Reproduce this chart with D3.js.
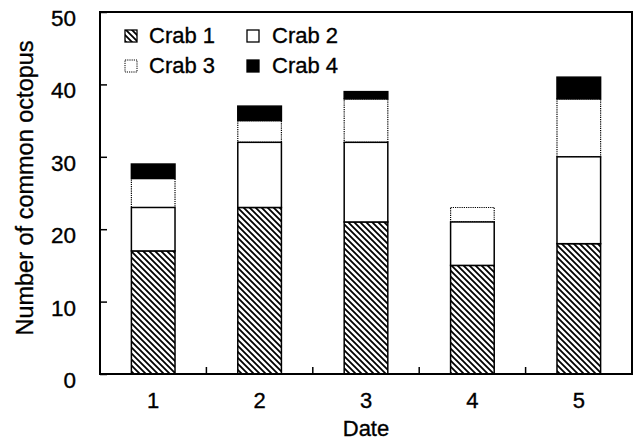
<!DOCTYPE html>
<html>
<head>
<meta charset="utf-8">
<script src="https://cdn.jsdelivr.net/npm/d3@7"></script>
<style>
  html, body { margin: 0; padding: 0; background: #fff; }
  text { font-family: "Liberation Sans", Arial, Helvetica, sans-serif; fill: #000; stroke: #000; stroke-width: 0.35px; }
</style>
</head>
<body>
<svg id="chart" width="643" height="443"></svg>
<script>
const dates = ["1", "2", "3", "4", "5"];
const crab1 = [17, 23, 21, 15, 18];
const crab2 = [6, 9, 11, 6, 12];
const crab3 = [4, 3, 6, 2, 8];
const crab4 = [2, 2, 1, 0, 3];
const seriesNames = ["Crab 1", "Crab 2", "Crab 3", "Crab 4"];
const yTicks = [0, 10, 20, 30, 40, 50];

const rows = dates.map((d, i) => ({ date: d, "Crab 1": crab1[i], "Crab 2": crab2[i], "Crab 3": crab3[i], "Crab 4": crab4[i] }));

const svg = d3.select("#chart");
const m = { left: 100, right: 632, top: 12, bottom: 374 };

const x = d3.scaleBand().domain(dates).range([m.left, m.right]).paddingInner(0.59).paddingOuter(0.295);
const xEdges = d3.scaleBand().domain(dates).range([m.left, m.right]);
const y = d3.scaleLinear().domain([0, 50]).range([m.bottom, m.top]);

const defs = svg.append("defs");
const pat = defs.append("pattern").attr("id", "hatch").attr("patternUnits", "userSpaceOnUse")
  .attr("width", 6).attr("height", 6);
pat.append("rect").attr("width", 6).attr("height", 6).attr("fill", "#fff");
pat.append("path").attr("d", "M0,0 L6,6 M-3,3 L3,9 M3,-3 L9,3")
  .attr("stroke", "#000").attr("stroke-width", 1.8);

const styles = {
  "Crab 1": { fill: "url(#hatch)", dash: null, sw: 1.5 },
  "Crab 2": { fill: "#fff", dash: null, sw: 1.5 },
  "Crab 3": { fill: "#fff", dash: "1.2,1", sw: 1.2 },
  "Crab 4": { fill: "#000", dash: null, sw: 1.5 }
};

const stacked = d3.stack().keys(seriesNames)(rows);
const drawOrder = ["Crab 3", "Crab 1", "Crab 2", "Crab 4"];
drawOrder.forEach(key => {
  const layer = stacked.find(s => s.key === key);
  const st = styles[key];
  svg.append("g").selectAll("rect")
    .data(layer.filter(d => d[1] - d[0] > 0))
    .join("rect")
    .attr("x", d => x(d.data.date))
    .attr("width", x.bandwidth())
    .attr("y", d => y(d[1]))
    .attr("height", d => y(d[0]) - y(d[1]))
    .attr("fill", st.fill)
    .attr("stroke", "#000")
    .attr("stroke-width", st.sw)
    .attr("stroke-dasharray", st.dash);
});

// frame
svg.append("rect").attr("x", m.left).attr("y", m.top)
  .attr("width", m.right - m.left).attr("height", m.bottom - m.top)
  .attr("fill", "none").attr("stroke", "#000").attr("stroke-width", 2);

// y axis
const yAxis = d3.axisLeft(y).tickValues(yTicks).tickSize(-7).tickPadding(31).tickFormat(d3.format("d"));
const gy = svg.append("g").attr("transform", `translate(${m.left},0)`).call(yAxis);
gy.select(".domain").remove();
gy.selectAll(".tick line").attr("stroke", "#000").attr("stroke-width", 1.5);
gy.selectAll(".tick text").attr("font-size", 22.5).attr("dy", "0.6em").attr("x", -24)
  .attr("font-family", "Liberation Sans, Arial, sans-serif");

// x axis with labels at centers
const xAxis = d3.axisBottom(x).tickSize(0).tickPadding(18.5);
const gx = svg.append("g").attr("transform", `translate(0,${m.bottom})`).call(xAxis);
gx.select(".domain").remove();
gx.selectAll(".tick text").attr("font-size", 22).attr("font-family", "Liberation Sans, Arial, sans-serif");

// minor ticks at category boundaries
svg.append("g").selectAll("line")
  .data(dates.slice(1))
  .join("line")
  .attr("x1", d => xEdges(d)).attr("x2", d => xEdges(d))
  .attr("y1", m.bottom).attr("y2", m.bottom - 7)
  .attr("stroke", "#000").attr("stroke-width", 1.5);

// axis titles
svg.append("text").attr("x", (m.left + m.right) / 2).attr("y", 436)
  .attr("text-anchor", "middle").attr("font-size", 22).text("Date");
svg.append("text").attr("transform", "translate(33,188) rotate(-90)")
  .attr("text-anchor", "middle").attr("font-size", 23.5).text("Number of common octopus");

// legend
const legendPos = [
  { key: "Crab 1", bx: 125, by: 30, tx: 149, ty: 43 },
  { key: "Crab 2", bx: 247, by: 30, tx: 272, ty: 43 },
  { key: "Crab 3", bx: 125, by: 60, tx: 149, ty: 73 },
  { key: "Crab 4", bx: 247, by: 60, tx: 272, ty: 73 }
];
const lg = svg.append("g").selectAll("g").data(legendPos).join("g");
lg.append("rect").attr("x", d => d.bx).attr("y", d => d.by).attr("width", 12).attr("height", 12)
  .attr("fill", d => styles[d.key].fill).attr("stroke", "#000")
  .attr("stroke-width", d => d.key === "Crab 3" ? 1 : 1.3)
  .attr("stroke-dasharray", d => styles[d.key].dash);
lg.append("text").attr("x", d => d.tx).attr("y", d => d.ty).attr("font-size", 22).text(d => d.key);
</script>
</body>
</html>
